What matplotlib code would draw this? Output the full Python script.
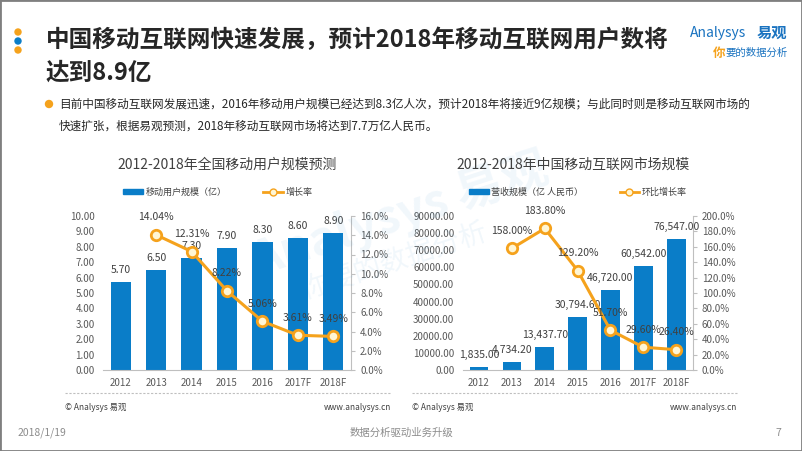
import matplotlib.pyplot as plt
import matplotlib.patches as mpatches
from matplotlib.lines import Line2D
import numpy as np

plt.rcParams['font.family'] = ['Noto Sans CJK SC', 'DejaVu Sans']

# 数据
years = ['2012', '2013', '2014', '2015', '2016', '2017F', '2018F']
users = [5.70, 6.50, 7.30, 7.90, 8.30, 8.60, 8.90]
user_growth = [None, 14.04, 12.31, 8.22, 5.06, 3.61, 3.49]
market = [1835.00, 4734.20, 13437.70, 30794.60, 46720.00, 60542.00, 76547.00]
market_growth = [None, 158.00, 183.80, 129.20, 51.70, 29.60, 26.40]

BLUE = '#0A7DC8'
ORANGE = '#F5A21C'
GRAY = '#595959'

W, H = 802, 451
fig = plt.figure(figsize=(W / 100, H / 100), dpi=100)


def fx(x):
    return x / W


def fy(y):
    return 1 - y / H


def dot(x, y, r, c):
    fig.patches.append(mpatches.Ellipse((fx(x), fy(y)), 2 * r / W, 2 * r / H,
                                        transform=fig.transFigure, color=c))


# 页面边框
fig.patches.append(mpatches.Rectangle((0, 0), 1, 1, transform=fig.transFigure,
                                      fill=False, edgecolor='#7f7f7f', lw=2))

# 水印
fig.text(fx(400), fy(215), 'Analysys 易观', fontsize=34, color='#0A7DC8', alpha=0.06,
         rotation=18, ha='center', va='center', style='italic', fontweight='bold')
fig.text(fx(395), fy(262), '你要的数据分析', fontsize=20, color='#0A7DC8', alpha=0.06,
         rotation=18, ha='center', va='center')

# 左上角圆点
for yy, c in zip([32, 41, 50], [ORANGE, BLUE, ORANGE]):
    dot(18, yy, 3, c)
fig.text(fx(46), fy(40), '中国移动互联网快速发展，预计2018年移动互联网用户数将',
         fontsize=17, fontweight='bold', color='#262626', va='center', ha='left')
fig.text(fx(46), fy(73), '达到8.9亿', fontsize=17, fontweight='bold', color='#262626',
         va='center', ha='left')

# logo
fig.text(fx(690), fy(33), 'Analysys', fontsize=10, color='#1a73c0', va='center', ha='left',
         style='italic')
fig.text(fx(757), fy(33), '易观', fontsize=11, color='#1a73c0', fontweight='bold',
         va='center', ha='left')
fig.text(fx(713), fy(53), '你', fontsize=9, color=ORANGE, va='center', ha='left', fontweight='bold')
fig.text(fx(725), fy(53), '要的数据分析', fontsize=7.5, color='#1a73c0', va='center', ha='left',
         style='italic')

# 说明文字
dot(49, 104, 3.5, ORANGE)
fig.text(fx(59), fy(104),
         '目前中国移动互联网发展迅速，2016年移动用户规模已经达到8.3亿人次，预计2018年将接近9亿规模；与此同时则是移动互联网市场的',
         fontsize=8.4, color='#262626', va='center', ha='left')
fig.text(fx(59), fy(126), '快速扩张，根据易观预测，2018年移动互联网市场将达到7.7万亿人民币。',
         fontsize=8.4, color='#262626', va='center', ha='left')


def make_chart(rect, bars, rates, ymax, ystep, yfmt, rmax, rstep, title, title_x,
               bar_label, line_label, bar_fmt, legend_pos):
    ax = fig.add_axes(rect)
    ax.patch.set_alpha(0)
    x = np.arange(len(years))
    ax.bar(x, bars, width=0.57, color=BLUE, zorder=2)
    ax.set_xlim(-0.5, len(years) - 0.5)
    ax.set_ylim(0, ymax)
    ax.set_yticks(np.arange(0, ymax + ystep / 2, ystep))
    ax.yaxis.set_major_formatter(plt.FuncFormatter(lambda v, p: yfmt.format(v)))
    ax.set_xticks(x)
    ax.set_xticklabels(years)
    ax.tick_params(axis='both', labelsize=7, colors=GRAY, length=0, pad=6)
    for s in ['top', 'right', 'left']:
        ax.spines[s].set_visible(False)
    ax.spines['bottom'].set_color('#bfbfbf')
    for xi, v in zip(x, bars):
        ax.annotate(bar_fmt(v), (xi, v), xytext=(0, 5), textcoords='offset points',
                    ha='center', va='bottom', fontsize=7.5, color='#404040')

    ax2 = ax.twinx()
    rx = [xi for xi, r in zip(x, rates) if r is not None]
    ry = [r for r in rates if r is not None]
    ax2.plot(rx, ry, color=ORANGE, lw=2.2, marker='o', markersize=7.5,
             markerfacecolor='#FFF6D5', markeredgecolor=ORANGE, markeredgewidth=2, zorder=3)
    ax2.set_ylim(0, rmax)
    ax2.set_yticks(np.arange(0, rmax + rstep / 2, rstep))
    ax2.yaxis.set_major_formatter(plt.FuncFormatter(lambda v, p: '{:.1f}%'.format(v)))
    ax2.tick_params(axis='y', labelsize=7, colors=GRAY, length=3, color='#bfbfbf')
    for s in ['top', 'left', 'bottom']:
        ax2.spines[s].set_visible(False)
    ax2.spines['right'].set_color('#bfbfbf')
    for xi, r in zip(rx, ry):
        ax2.annotate('{:.2f}%'.format(r), (xi, r), xytext=(0, 9), textcoords='offset points',
                     ha='center', va='bottom', fontsize=7.5, color='#404040')

    fig.text(title_x, fy(165), title, fontsize=10, color='#404040', ha='center', va='center')
    handles = [mpatches.Patch(color=BLUE, label=bar_label),
               Line2D([0], [0], color=ORANGE, lw=2, marker='o', markersize=5,
                      markerfacecolor='#FFF6D5', markeredgecolor=ORANGE, label=line_label)]
    fig.legend(handles=handles, loc='center', bbox_to_anchor=legend_pos, ncol=2,
               frameon=False, fontsize=6.5, handlelength=2.2, handleheight=0.6,
               columnspacing=4, handletextpad=0.3, labelcolor='#404040')
    return ax


make_chart([fx(103), fy(370), fx(248), 154 / H], users, user_growth, 10, 1, '{:.2f}',
           16, 2, '2012-2018年全国移动用户规模预测', fx(227), '移动用户规模（亿）', '增长率',
           lambda v: '{:.2f}'.format(v), (fx(218), fy(192)))

make_chart([fx(462.6), fy(370), fx(230), 154 / H], market, market_growth, 90000, 10000,
           '{:.2f}', 200, 20, '2012-2018年中国移动互联网市场规模', fx(573),
           '营收规模（亿 人民币）', '环比增长率', lambda v: '{:,.2f}'.format(v),
           (fx(578), fy(192)))

# 分隔虚线和来源
for x0, x1 in [(65, 391), (412, 737)]:
    fig.add_artist(Line2D([fx(x0), fx(x1)], [fy(393), fy(393)], color='#bfbfbf', lw=0.8,
                          linestyle=(0, (2, 1.5))))
    fig.text(fx(x0), fy(407), '© Analysys 易观', fontsize=6, color='#404040', va='center')
    fig.text(fx(x1), fy(407), 'www.analysys.cn', fontsize=6, color='#404040', va='center',
             ha='right')

# 页脚
fig.text(fx(18), fy(433), '2018/1/19', fontsize=7.5, color='#8c8c8c', va='center')
fig.text(fx(401), fy(433), '数据分析驱动业务升级', fontsize=7.5, color='#8c8c8c', va='center',
         ha='center')
fig.text(fx(778), fy(433), '7', fontsize=7.5, color='#8c8c8c', va='center', ha='center')

fig.savefig('out.png', dpi=100)
